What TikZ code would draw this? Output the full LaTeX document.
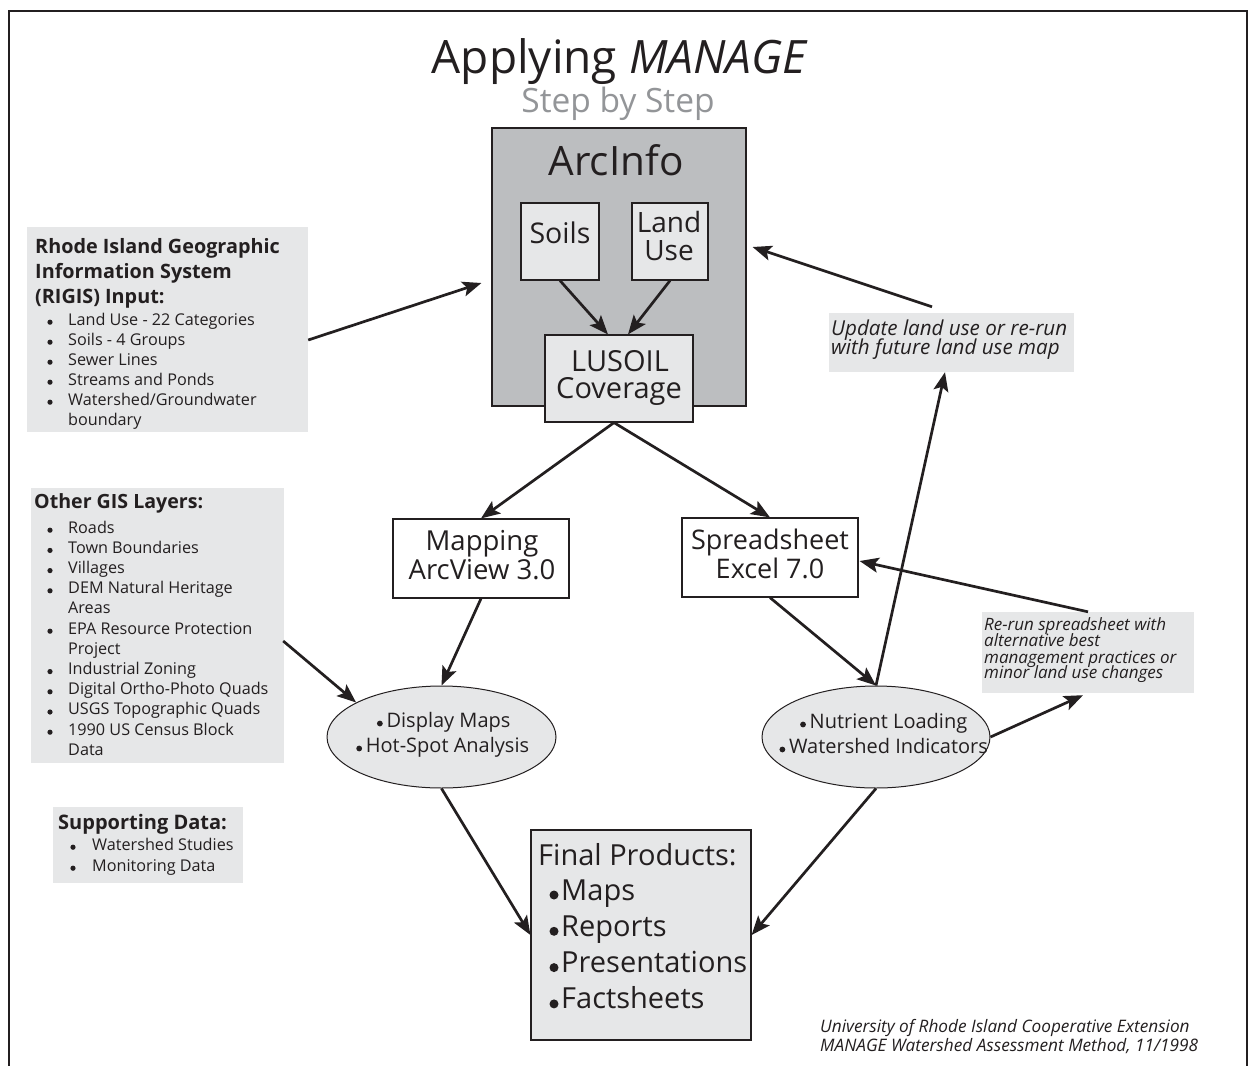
\documentclass[tikz,border=0pt]{standalone}
\usepackage{fontspec}
\setmainfont{Open Sans}
\usetikzlibrary{arrows.meta,calc,shapes.geometric}
\definecolor{ink}{HTML}{231F20}
\definecolor{lightg}{HTML}{E6E7E8}
\definecolor{midg}{HTML}{BCBEC0}
\definecolor{titleg}{HTML}{939598}
\newcommand{\fs}[1]{\fontsize{#1}{#1}\selectfont}
\begin{document}
\begin{tikzpicture}[x=1pt,y=-1pt,
  box/.style={rectangle, draw=ink, line width=1.2pt, inner sep=0pt},
  panel/.style={rectangle, fill=lightg, inner sep=0pt},
  oval/.style={ellipse, draw=ink, line width=1pt, fill=lightg, inner sep=0pt},
  txt/.style={anchor=base, inner sep=0pt, text=ink},
  ltxt/.style={anchor=base west, inner sep=0pt, text=ink},
  arr/.style={draw=ink, line width=2.7pt, -{Stealth[length=19pt,width=15pt,inset=4pt]}},
  blt/.style={fill=ink}
]
\useasboundingbox (0,0) rectangle (1251,1066);
\fill[white] (0,0) rectangle (1251,1066);
\draw[ink, line width=2pt] (9,1066) -- (9,11) -- (1247,11) -- (1247,1066);

% title
\node[txt, font=\fs{46}] (title) at (620,73) {Applying \textit{MANAGE}};
\node[txt, text=titleg, font=\fs{33.5}] (sub) at (618,112) {Step by Step};

% ArcInfo
\node[box, fill=midg, minimum width=254pt, minimum height=278pt] (arcinfo) at (619,267) {};
\node[txt, font=\fs{40.5}] (arcinfoT) at (616,175) {ArcInfo};
\node[box, fill=lightg, minimum width=78pt, minimum height=77pt] (soils) at (560,241.5) {};
\node[txt, font=\fs{28.5}] (soilsT) at (560,243) {Soils};
\node[box, fill=lightg, minimum width=76pt, minimum height=77pt] (land) at (670,241.5) {};
\node[txt, font=\fs{28}] (landT1) at (669,232) {Land};
\node[txt, font=\fs{28}] (landT2) at (669,260) {Use};
\node[box, fill=lightg, minimum width=148pt, minimum height=87pt] (lusoil) at (619,378.5) {};
\node[txt, font=\fs{29}] (lusoilT1) at (620,371) {LUSOIL};
\node[txt, font=\fs{29}] (lusoilT2) at (619,398) {Coverage};

% Mapping / Spreadsheet
\node[box, fill=white, minimum width=176pt, minimum height=79pt] (mapping) at (481,558.5) {};
\node[txt, font=\fs{27.5}] (mappingT1) at (482,550) {Mapping};
\node[txt, font=\fs{27.5}] (mappingT2) at (482,579) {ArcView 3.0};
\node[box, fill=white, minimum width=176pt, minimum height=79pt] (sheet) at (770,557.5) {};
\node[txt, font=\fs{27}] (sheetT1) at (770,549) {Spreadsheet};
\node[txt, font=\fs{27}] (sheetT2) at (770,578) {Excel 7.0};

% ellipses
\node[oval, minimum width=229pt, minimum height=102pt] (display) at (441.5,737) {};
\node[txt, font=\fs{20}] (displayT1) at (448.5,727) {Display Maps};
\node[txt, font=\fs{20}] (displayT2) at (447.5,752) {Hot-Spot Analysis};
\fill[blt] ($(displayT1.base west)+(-6.5,-3.5)$) circle (2.9);
\fill[blt] ($(displayT2.base west)+(-6.5,-3.5)$) circle (2.9);
\node[oval, minimum width=228pt, minimum height=102pt] (nutrient) at (876,737) {};
\node[txt, font=\fs{20}] (nutrientT1) at (888.5,728) {Nutrient Loading};
\node[txt, font=\fs{20}] (nutrientT2) at (888.5,753) {Watershed Indicators};
\fill[blt] ($(nutrientT1.base west)+(-6.5,-3.5)$) circle (2.9);
\fill[blt] ($(nutrientT2.base west)+(-6.5,-3.5)$) circle (2.9);

% Final products
\node[box, fill=lightg, minimum width=220pt, minimum height=210pt] (final) at (641,935) {};
\node[ltxt, font=\fs{29}] (finalT) at (538,865) {Final Products:};
\foreach \t [count=\i] in {Maps,Reports,Presentations,Factsheets}{
  \node[ltxt, font=\fs{29}] (finalI\i) at (561,{900+36.3*(\i-1)}) {\t};
  \fill[blt] ($(finalI\i.base west)+(-7,-5)$) circle (4.5);
}

% RIGIS panel
\node[panel, minimum width=281pt, minimum height=205pt] (rigis) at (167.5,329.5) {};
\node[ltxt, font=\fs{19.8}\bfseries] (rigisH1) at (35,253) {Rhode Island Geographic};
\node[ltxt, font=\fs{19.8}\bfseries] (rigisH2) at (35,278) {Information System};
\node[ltxt, font=\fs{19.8}\bfseries] (rigisH3) at (35,303) {(RIGIS) Input:};
\foreach \t/\b [count=\i] in {Land Use - 22 Categories/1, Soils - 4 Groups/1, Sewer Lines/1, Streams and Ponds/1, {Watershed/Groundwater}/1, boundary/0}{
  \node[ltxt, font=\fs{16.2}] (rigisI\i) at (68,{325+20*(\i-1)}) {\t};
  \ifnum\b=1 \fill[blt] (50,{325+20*(\i-1)-2.8}) circle (2.6); \fi
}

% Other GIS panel
\node[panel, minimum width=253pt, minimum height=275pt] (other) at (157.5,625.5) {};
\node[ltxt, font=\fs{19.6}\bfseries] (otherH) at (34,508) {Other GIS Layers:};
\foreach \t/\b [count=\i] in {Roads/1, Town Boundaries/1, Villages/1, DEM Natural Heritage/1, Areas/0, EPA Resource Protection/1, Project/0, Industrial Zoning/1, Digital Ortho-Photo Quads/1, USGS Topographic Quads/1, 1990 US Census Block/1, Data/0}{
  \node[ltxt, font=\fs{16.2}] (otherI\i) at (68,{533+20.2*(\i-1)}) {\t};
  \ifnum\b=1 \fill[blt] (50,{533+20.2*(\i-1)-2.8}) circle (2.6); \fi
}

% Supporting panel
\node[panel, minimum width=190pt, minimum height=76pt] (support) at (148,845) {};
\node[ltxt, font=\fs{20}\bfseries] (supportH) at (58,829) {Supporting Data:};
\foreach \t [count=\i] in {Watershed Studies, Monitoring Data}{
  \node[ltxt, font=\fs{16.2}] (supportI\i) at (92,{850+21*(\i-1)}) {\t};
  \fill[blt] (73,{850+21*(\i-1)-2.8}) circle (2.6);
}

% Update panel
\node[panel, minimum width=245pt, minimum height=59pt] (update) at (951.5,342.5) {};
\node[ltxt, font=\fs{20.6}\itshape] (updateT1) at (831,335) {Update land use or re-run};
\node[ltxt, font=\fs{20.6}\itshape] (updateT2) at (831,354) {with future land use map};

% Re-run panel
\node[panel, minimum width=212pt, minimum height=81pt] (rerun) at (1088,652.5) {};
\foreach \t/\y [count=\i] in {Re-run spreadsheet with/630, alternative best/646, management practices or/663, minor land use changes/678}{
  \node[ltxt, font=\fs{17}\itshape] (rerunT\i) at (984,\y) {\t};
}

% footer
\node[ltxt, font=\fs{17.2}\itshape] (foot1) at (820,1032) {University of Rhode Island Cooperative Extension};
\node[ltxt, font=\fs{17.2}\itshape] (foot2) at (820,1051) {MANAGE Watershed Assessment Method, 11/1998};

% connectors
\draw[arr] ($(rigis.east)+(0,10.5)$) -- ($(arcinfo.west)+(-10,16)$);
\draw[arr] ($(update.north)+(-19.5,-6)$) -- ($(arcinfo.east)+(6,-20)$);
\draw[arr] (soils.south) -- ($(lusoil.north)+(-11,0)$);
\draw[arr] (land.south) -- ($(lusoil.north)+(9,0)$);
\draw[arr] ($(lusoil.south)+(-5,0)$) -- (mapping.north);
\draw[arr] ($(lusoil.south)+(-5,0)$) -- (sheet.north);
\draw[arr] (mapping.south) -- (display.north);
\draw[arr] (sheet.south) -- (nutrient.north);
\draw[arr] ($(other.east)+(-1,15.5)$) -- (display.158);
\draw[arr] (display.south) -- (final.west);
\draw[arr] (nutrient.south) -- (final.east);
\draw[arr] (nutrient.north) -- ($(update.south)+(-6.5,0)$);
\draw[arr] (nutrient.east) -- ($(rerun.south)+(-5,2)$);
\draw[arr] (rerun.north) -- ($(sheet.east)+(1,3.5)$);
\end{tikzpicture}
\end{document}
